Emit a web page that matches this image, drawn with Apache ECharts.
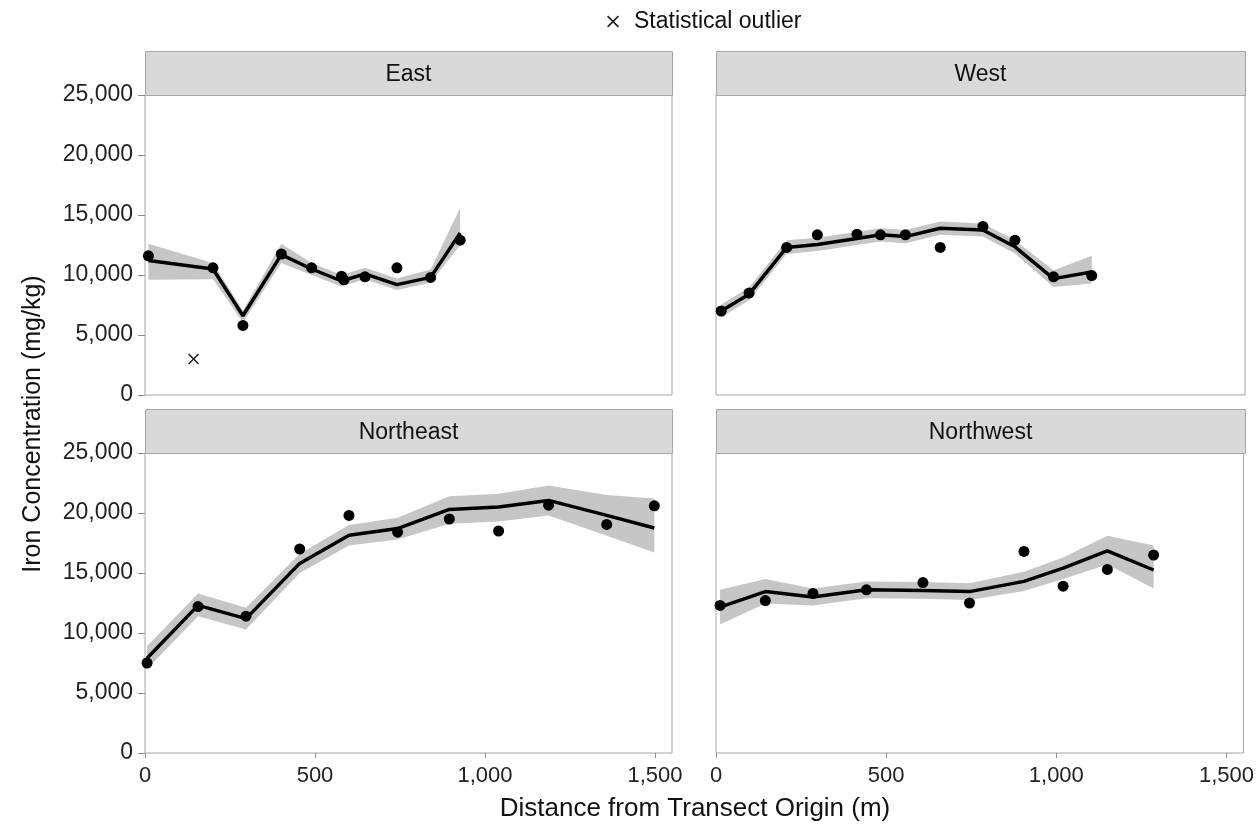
<!DOCTYPE html>
<html>
<head>
<meta charset="utf-8">
<script src="https://cdn.jsdelivr.net/npm/echarts@6/dist/echarts.min.js"></script>
<style>
    html, body { margin: 0; padding: 0; background: #fff; }
    #chart { width: 1257px; height: 824px; }
</style>
</head>
<body>
<div id="chart"></div>
<script>
    // panel names
    let panelNames = ['East', 'West', 'Northeast', 'Northwest'];
    let xTicks = [0, 500, 1000, 1500];

    // East
    let eastFitX = [10, 200, 288, 401, 490, 578, 647, 741, 840, 927];
    let eastFitY = [11200, 10500, 6600, 11700, 10500, 9500, 10100, 9200, 9800, 13500];
    let eastLo = [9600, 9650, 6050, 11000, 10000, 9050, 9650, 8750, 9350, 12500];
    let eastHi = [12600, 11000, 7050, 12600, 11000, 10000, 10600, 9700, 10450, 15600];
    let eastPtX = [10, 200, 288, 401, 490, 578, 585, 647, 741, 840, 927];
    let eastPtY = [11600, 10600, 5800, 11750, 10600, 9900, 9600, 9850, 10600, 9800, 12900];
    let eastOutlier = [[143, 3000]];

    // West
    let westFitX = [15, 97, 207, 297, 413, 482, 555, 657, 782, 876, 989, 1101];
    let westFitY = [7000, 8400, 12300, 12550, 13050, 13350, 13200, 13900, 13750, 12350, 9700, 10250];
    let westLo = [6450, 7900, 11750, 12000, 12500, 12800, 12650, 13350, 13200, 11800, 9000, 9300];
    let westHi = [7550, 8950, 12900, 13100, 13600, 13900, 13750, 14450, 14300, 12900, 10400, 11600];
    let westPtX = [15, 97, 207, 297, 413, 482, 555, 657, 782, 876, 989, 1101];
    let westPtY = [7000, 8500, 12300, 13350, 13400, 13350, 13350, 12300, 14050, 12900, 9850, 9950];

    // Northeast
    let neFitX = [6, 156, 297, 455, 600, 743, 895, 1040, 1187, 1358, 1498];
    let neFitY = [7900, 12300, 11200, 15800, 18150, 18700, 20300, 20500, 21050, 19800, 18750];
    let neLo = [7000, 11400, 10300, 15000, 17300, 17800, 19100, 19300, 19800, 18100, 16700];
    let neHi = [8900, 13300, 12100, 16600, 19000, 19600, 21400, 21600, 22300, 21500, 21200];
    let nePtX = [6, 156, 297, 455, 600, 743, 895, 1040, 1187, 1358, 1498];
    let nePtY = [7500, 12200, 11400, 17000, 19800, 18400, 19500, 18500, 20650, 19050, 20600];

    // Northwest
    let nwFitX = [12, 145, 285, 442, 608, 745, 905, 1020, 1150, 1286];
    let nwFitY = [12150, 13450, 13000, 13600, 13550, 13450, 14300, 15400, 16850, 15250];
    let nwLo = [10700, 12450, 12300, 12900, 12850, 12750, 13500, 14500, 15700, 13700];
    let nwHi = [13600, 14500, 13700, 14300, 14250, 14150, 15100, 16300, 18100, 17300];
    let nwPtX = [12, 145, 285, 442, 608, 745, 905, 1020, 1150, 1286];
    let nwPtY = [12300, 12700, 13300, 13600, 14200, 12500, 16800, 13900, 15300, 16500];

    let FONT = 'Liberation Sans, Arial, sans-serif';

    function zip(xs, ys) {
        let out = [];
        for (let i = 0; i < xs.length; i++) out.push([xs[i], ys[i]]);
        return out;
    }
    function fmt(v) {
        return String(v).replace(/\B(?=(\d{3})+(?!\d))/g, ',');
    }

    let panels = [
        {fx: eastFitX, fy: eastFitY, lo: eastLo, hi: eastHi, px: eastPtX, py: eastPtY},
        {fx: westFitX, fy: westFitY, lo: westLo, hi: westHi, px: westPtX, py: westPtY},
        {fx: neFitX, fy: neFitY, lo: neLo, hi: neHi, px: nePtX, py: nePtY},
        {fx: nwFitX, fy: nwFitY, lo: nwLo, hi: nwHi, px: nwPtX, py: nwPtY}
    ];

    // layout of the 2x2 facets
    let lefts = [145, 716, 145, 716];
    let tops = [95, 95, 453, 453];
    let widths = [527, 529, 527, 529];
    let plotH = 300, headH = 44;

    // confidence band: one polygon per panel, lo edge forward then hi edge back
    function bandRenderer(p) {
        return function (params, api) {
            if (params.dataIndex !== 0) return null;
            let pts = [];
            for (let k = 0; k < p.fx.length; k++) pts.push(api.coord([p.fx[k], p.lo[k]]));
            for (let k = p.fx.length - 1; k >= 0; k--) pts.push(api.coord([p.fx[k], p.hi[k]]));
            return {
                type: 'polygon',
                shape: {points: pts},
                style: {fill: '#c6c6c6', stroke: 'none'}
            };
        };
    }

    let grids = [], xAxes = [], yAxes = [], series = [], graphics = [];

    for (let i = 0; i < 4; i++) {
        let isLeft = i % 2 === 0;
        let isBottom = i >= 2;
        grids.push({
            left: lefts[i], top: tops[i], width: widths[i], height: plotH,
            show: true, borderColor: '#a6a6a6', borderWidth: 1, backgroundColor: '#fff'
        });
        xAxes.push({
            type: 'value', gridIndex: i, min: 0, max: 1550,
            axisLine: {show: false},
            splitLine: {show: false},
            axisTick: {show: isBottom, length: 5, lineStyle: {color: '#8c8c8c'}, customValues: xTicks},
            axisLabel: {
                show: isBottom, margin: 12, color: '#222', fontSize: 22, fontFamily: FONT,
                customValues: xTicks, formatter: fmt
            }
        });
        yAxes.push({
            type: 'value', gridIndex: i, min: 0, max: 25000, interval: 5000,
            axisLine: {show: false},
            splitLine: {show: false},
            axisTick: {show: isLeft, length: 7, lineStyle: {color: '#8c8c8c'}},
            axisLabel: {
                show: isLeft, margin: 12, color: '#222', fontSize: 23, fontFamily: FONT,
                formatter: fmt
            }
        });

        let p = panels[i];
        let bandData = [];
        for (let k = 0; k < p.fx.length; k++) bandData.push([p.fx[k], p.lo[k], p.hi[k]]);
        series.push({
            type: 'custom', xAxisIndex: i, yAxisIndex: i,
            data: bandData, encode: {x: 0, y: [1, 2]},
            renderItem: bandRenderer(p), silent: true, z: 1
        });
        series.push({
            type: 'line', xAxisIndex: i, yAxisIndex: i,
            data: zip(p.fx, p.fy), symbol: 'none',
            lineStyle: {color: '#000', width: 3.5}, z: 3
        });
        series.push({
            type: 'scatter', xAxisIndex: i, yAxisIndex: i,
            data: zip(p.px, p.py), symbol: 'circle', symbolSize: 11,
            itemStyle: {color: '#000', opacity: 1}, z: 4
        });

        // facet header strip
        graphics.push({
            type: 'rect', left: lefts[i], top: tops[i] - headH,
            shape: {width: widths[i], height: headH},
            style: {fill: '#d9d9d9', stroke: '#a6a6a6', lineWidth: 1}
        });
        graphics.push({
            type: 'text', x: lefts[i] + widths[i] / 2, y: tops[i] - headH / 2 + 2,
            style: {
                text: panelNames[i], fill: '#111', font: '23px ' + FONT,
                textAlign: 'center', textVerticalAlign: 'middle'
            }
        });
    }

    series.push({
        name: 'Statistical outlier',
        type: 'scatter', xAxisIndex: 0, yAxisIndex: 0,
        data: eastOutlier,
        symbol: 'path://M1,0L5,4L9,0L10,1L6,5L10,9L9,10L5,6L1,10L0,9L4,5L0,1Z',
        symbolSize: 11, itemStyle: {color: '#222', opacity: 1}, z: 4
    });

    // axis titles
    graphics.push({
        type: 'text', x: 695, y: 809,
        style: {
            text: 'Distance from Transect Origin (m)', fill: '#111', font: '26px ' + FONT,
            textAlign: 'center', textVerticalAlign: 'middle'
        }
    });
    graphics.push({
        type: 'text', x: 33, y: 424, rotation: Math.PI / 2,
        style: {
            text: 'Iron Concentration (mg/kg)', fill: '#111', font: '25px ' + FONT,
            textAlign: 'center', textVerticalAlign: 'middle'
        }
    });

    let myChart = echarts.init(document.getElementById('chart'));
    myChart.setOption({
        animation: false,
        backgroundColor: '#fff',
        legend: {
            data: ['Statistical outlier'],
            left: 602, top: 5,
            itemWidth: 12, itemHeight: 12,
            textStyle: {color: '#111', fontSize: 23, fontFamily: FONT, padding: [0, 0, 0, 10]}
        },
        grid: grids,
        xAxis: xAxes,
        yAxis: yAxes,
        series: series,
        graphic: graphics
    });
</script>
</body>
</html>
